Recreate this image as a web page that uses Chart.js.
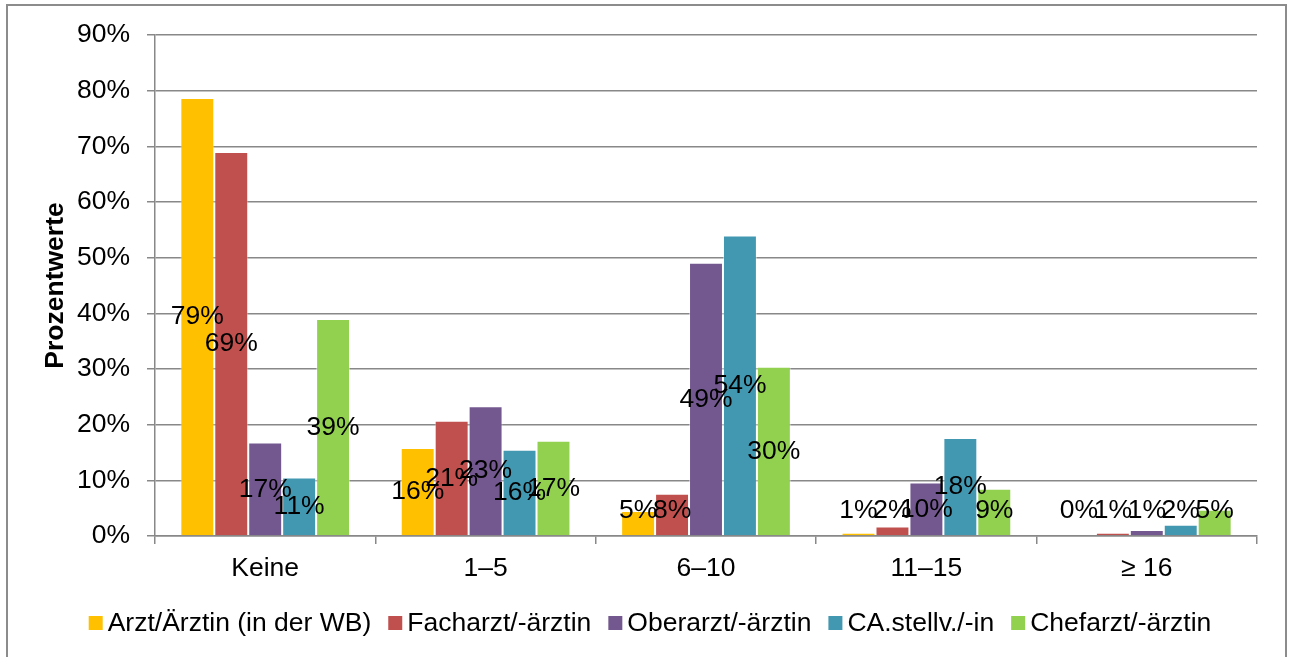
<!DOCTYPE html>
<html><head><meta charset="utf-8">
<script src="https://cdn.jsdelivr.net/npm/chart.js@4.4.0/dist/chart.umd.min.js"></script>
<style>html,body{margin:0;padding:0;background:#fff;overflow:hidden}#wrap{width:1293px;height:657px;position:relative}</style>
</head><body><div id="wrap"><canvas id="c" width="1293" height="657"></canvas></div>
<script>
const categories = ['Keine', '1–5', '6–10', '11–15', '≥ 16'];
const arzt      = [78.7, 15.8,  4.5,  0.6, 0.0];
const facharzt  = [69.0, 20.7,  7.6,  1.7, 0.6];
const oberarzt  = [16.8, 23.3, 49.1,  9.6, 1.1];
const caStellv  = [10.5, 15.5, 54.0, 17.6, 2.0];
const chefarzt  = [39.0, 17.1, 30.4,  8.5, 4.7];
const seriesNames = ['Arzt/Ärztin (in der WB)', 'Facharzt/-ärztin', 'Oberarzt/-ärztin', 'CA.stellv./-in', 'Chefarzt/-ärztin'];
const yTickValues = [0, 10, 20, 30, 40, 50, 60, 70, 80, 90];
const yTitle = 'Prozentwerte';

const colors = ['#FFC000', '#C0504D', '#73588F', '#4398B1', '#92D050'];
const FONT = "'Liberation Sans', Arial, sans-serif";
const FS = 26.5;
const seriesValues = [arzt, facharzt, oberarzt, caStellv, chefarzt];

const frame = {
  id: 'frame',
  beforeDraw(chart) {
    const ctx = chart.ctx;
    ctx.save();
    ctx.fillStyle = '#fff';
    ctx.fillRect(0, 0, chart.width, chart.height);
    ctx.strokeStyle = '#8c8c8c';
    ctx.lineWidth = 2;
    ctx.beginPath();
    ctx.moveTo(7, 660); ctx.lineTo(7, 5); ctx.lineTo(1286, 5); ctx.lineTo(1286, 660);
    ctx.stroke();
    ctx.restore();
  }
};

const labelsPlugin = {
  id: 'valueLabels',
  afterDatasetsDraw(chart) {
    const ctx = chart.ctx;
    const base = chart.scales.y.getPixelForValue(0);
    ctx.save();
    ctx.font = FS + 'px ' + FONT;
    ctx.fillStyle = '#000';
    ctx.textAlign = 'center';
    ctx.textBaseline = 'middle';
    chart.data.datasets.forEach((ds, di) => {
      chart.getDatasetMeta(di).data.forEach((bar, i) => {
        const v = ds.data[i];
        const mid = (bar.y + base) / 2;
        const y = Math.min(mid, base - 25);
        ctx.fillText(Math.round(v) + '%', bar.x, y);
      });
    });
    ctx.restore();
  }
};

const legendPlugin = {
  id: 'customLegend',
  afterDraw(chart) {
    const ctx = chart.ctx;
    ctx.save();
    ctx.font = FS + 'px ' + FONT;
    const box = 14, gap = 5, spacing = 17;
    const items = chart.data.datasets.map(ds => ({ text: ds.label, color: ds.backgroundColor, w: ctx.measureText(ds.label).width }));
    const total = items.reduce((s, it) => s + box + gap + it.w, 0) + spacing * (items.length - 1);
    let x = 650 - total / 2;
    const cy = 623;
    ctx.textBaseline = 'middle';
    ctx.textAlign = 'left';
    items.forEach(it => {
      ctx.fillStyle = it.color;
      ctx.fillRect(x, cy - box / 2, box, box);
      ctx.fillStyle = '#000';
      ctx.fillText(it.text, x + box + gap, cy + 1);
      x += box + gap + it.w + spacing;
    });
    ctx.restore();
  }
};

new Chart(document.getElementById('c'), {
  type: 'bar',
  data: {
    labels: categories,
    datasets: seriesNames.map((name, i) => ({
      label: name,
      data: seriesValues[i],
      backgroundColor: colors[i],
      borderColor: 'rgba(255,255,255,0.45)',
      borderWidth: 1,
      categoryPercentage: 0.77,
      barPercentage: 1.0
    }))
  },
  options: {
    responsive: false,
    animation: false,
    events: [],
    layout: { padding: { left: 10, right: 36, top: 35, bottom: 64 } },
    plugins: { legend: { display: false }, tooltip: { enabled: false } },
    scales: {
      x: {
        grid: { drawOnChartArea: false, drawTicks: true, tickLength: 8, color: '#888', lineWidth: 1.5, offset: true },
        border: { color: '#888', width: 1.5 },
        ticks: { font: { family: FONT, size: FS }, color: '#000', padding: 9, maxRotation: 0 },
        afterFit(s) { s.height = 57; }
      },
      y: {
        min: 0, max: 90,
        afterBuildTicks(s) { s.ticks = yTickValues.map(v => ({ value: v })); },
        ticks: { callback: v => v + '%', font: { family: FONT, size: FS }, color: '#000', padding: 17 },
        grid: { color: '#888', lineWidth: 1.5, tickLength: 8 },
        border: { color: '#888', width: 1.5 },
        title: { display: true, text: yTitle, font: { family: FONT, size: FS, weight: 'bold' }, color: '#000', padding: { top: 30, bottom: 0 } },
        afterFit(s) { s.width = 145; s.paddingTop = 0; s.paddingBottom = 0; }
      }
    }
  },
  plugins: [frame, labelsPlugin, legendPlugin]
});
</script>
</body></html>
